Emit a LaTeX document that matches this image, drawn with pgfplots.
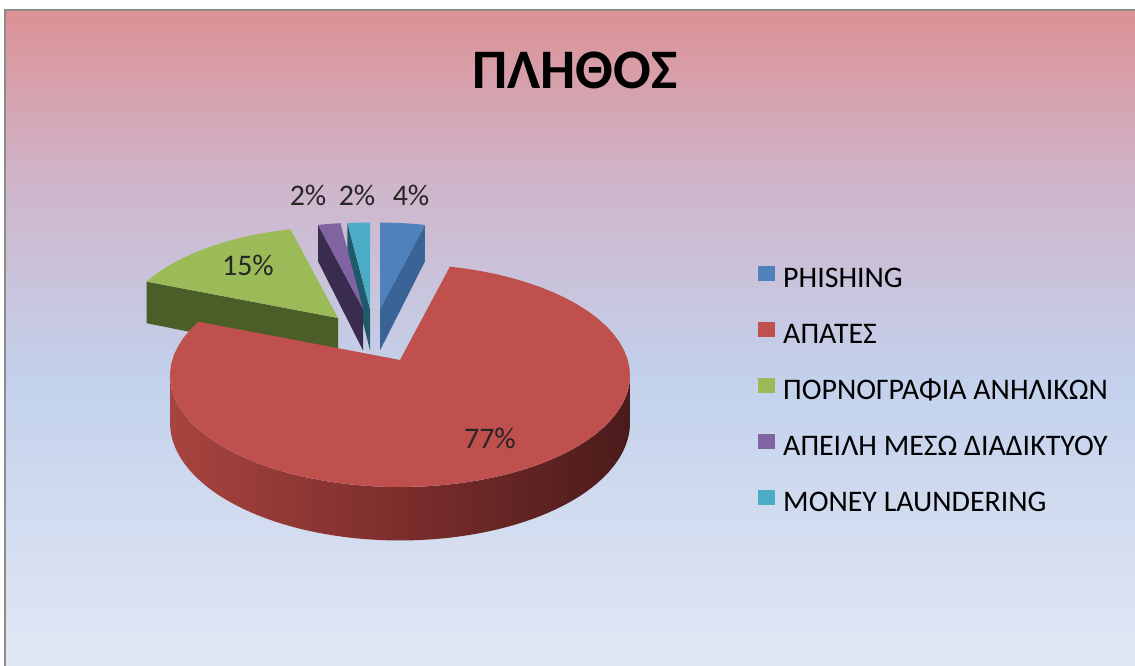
\documentclass[border=0pt]{standalone}
\usepackage{pgfplots}
\pgfplotsset{compat=1.18}
\usepackage{pgfplotstable}
\usepackage{fontspec}
\setmainfont{Carlito}

\definecolor{cBlue}{HTML}{4F81BD}
\definecolor{cBlueD}{HTML}{3A6396}
\definecolor{cRed}{HTML}{C0504D}
\definecolor{cRedL}{HTML}{A8443F}
\definecolor{cRedM}{HTML}{7C2E2C}
\definecolor{cRedR}{HTML}{4A1B1B}
\definecolor{cGreen}{HTML}{9BBB59}
\definecolor{cGreenD}{HTML}{4B5E27}
\definecolor{cPurple}{HTML}{8064A2}
\definecolor{cPurpleD}{HTML}{3A2C4E}
\definecolor{cCyan}{HTML}{4BACC6}
\definecolor{cCyanD}{HTML}{1E5A6A}
\definecolor{bgTop}{HTML}{DC9195}
\definecolor{bgA}{HTML}{CFB5CA}
\definecolor{bgB}{HTML}{C3D1EC}
\definecolor{bgBot}{HTML}{E2E7F4}
\definecolor{frame}{HTML}{8C8C88}

% shares in percent: PHISHING, APATES, PORNOGRAFIA, APEILH, MONEY LAUNDERING
\pgfplotstableread{
value
4
77
15
2
2
}\piedata

\pgfplotstablegetelem{0}{value}\of\piedata \edef\vA{\pgfplotsretval}
\pgfplotstablegetelem{1}{value}\of\piedata \edef\vB{\pgfplotsretval}
\pgfplotstablegetelem{2}{value}\of\piedata \edef\vC{\pgfplotsretval}
\pgfplotstablegetelem{3}{value}\of\piedata \edef\vD{\pgfplotsretval}
\pgfplotstablegetelem{4}{value}\of\piedata \edef\vE{\pgfplotsretval}
\pgfmathsetmacro\angA{0}
\pgfmathsetmacro\angB{\vA*3.6}
\pgfmathsetmacro\angC{\angB+\vB*3.6}
\pgfmathsetmacro\angD{\angC+\vC*3.6}
\pgfmathsetmacro\angE{\angD+\vD*3.6}
\pgfmathsetmacro\angF{\angE+\vE*3.6}

% top face: #1 start angle, #2 end angle, #3 tip x, #4 tip y, #5 scale, #6 colour
\newcommand{\topface}[6]{%
  \addplot[draw=none, fill=#6, domain=#1:#2, samples=60, forget plot]
    ({#3+#5*qx(x)},{#4+#5*qy(x)}) -- (axis cs:#3,#4) -- cycle;
}
% radial side face: #1 angle, #2 tip x, #3 tip y, #4 scale, #5 colour
\newcommand{\radface}[5]{%
  \addplot[draw=none, fill=#5, forget plot, samples at={0,1,2,3}]
    ({#2+#4*qx(#1)*isout(x)},
     {#3+#4*(qy(#1)*isout(x)+46*isbot(x)*(isout(x)*kp(#1)+1-isout(x)))}) -- cycle;
}

\begin{document}
\begin{tikzpicture}[declare function={
    kp(\a)=1/(1+0.139*cos(\a));
    qx(\a)=227.8*sin(\a)*kp(\a);
    qy(\a)=-109.4*cos(\a)*kp(\a);
    isout(\t)=(\t>0.5)*(\t<2.5);
    isbot(\t)=(\t>1.5);
    th(\t)=ifthenelse(\t<1.005,98+164*min(\t,1),262-164*(\t-1));
    lowr(\t)=(\t>1.005);
  }]
\useasboundingbox (0,0) rectangle (1135bp,666bp);
% background
\shade[top color=bgTop, bottom color=bgA] (5bp,485bp) rectangle (1135bp,656bp);
\shade[top color=bgA, bottom color=bgB] (5bp,285bp) rectangle (1135bp,486bp);
\shade[top color=bgB, bottom color=bgBot] (5bp,0bp) rectangle (1135bp,286bp);
\draw[frame, line width=2bp] (5bp,0bp) -- (5bp,656bp) -- (1135bp,656bp);

\begin{axis}[
  at={(0,0)}, anchor=south west,
  width=1135bp, height=666bp, scale only axis,
  xmin=0, xmax=1135, ymin=0, ymax=666, y dir=reverse,
  hide axis,
  legend style={at={(axis cs:758,266)}, anchor=north west, draw=none, fill=none,
    inner sep=0pt, row sep=27bp,
    font=\fontsize{30}{35}\selectfont,
    nodes={inner sep=0pt, text height=20bp, text depth=8bp},
    /tikz/every odd column/.append style={column sep=8bp}},
  legend cell align=left,
  legend image code/.code={\path[#1] (0bp,0bp) rectangle (17bp,15bp);},
]
% green (exploded)
\radface{\angC}{338}{318}{0.95}{cGreenD}
\topface{\angC}{\angD}{338}{318}{0.95}{cGreen}
% money laundering
\radface{\angE}{370}{309}{0.9}{cCyanD}
\topface{\angE}{\angF}{370}{309}{0.9}{cCyan}
% threat
\radface{\angD}{363}{309}{0.9}{cPurpleD}
\topface{\angD}{\angE}{363}{309}{0.9}{cPurple}
% phishing
\radface{\angB}{380}{309}{0.9}{cBlueD}
\topface{\angA}{\angB}{380}{309}{0.9}{cBlue}
% red (not exploded): outer side then top
\addplot[draw=none, left color=cRedL, right color=cRedR, middle color=cRedM,
  domain=0:2, samples=161, forget plot]
  ({400+qx(th(x))},{360+qy(th(x))+46*lowr(x)*kp(th(x))}) -- cycle;
\topface{\angB}{\angC}{400}{360}{1}{cRed}

\addlegendimage{fill=cBlue, draw=none}
\addlegendentry{PHISHING}
\addlegendimage{fill=cRed, draw=none}
\addlegendentry{ΑΠΑΤΕΣ}
\addlegendimage{fill=cGreen, draw=none}
\addlegendentry{ΠΟΡΝΟΓΡΑΦΙΑ ΑΝΗΛΙΚΩΝ}
\addlegendimage{fill=cPurple, draw=none}
\addlegendentry{ΑΠΕΙΛΗ ΜΕΣΩ ΔΙΑΔΙΚΤΥΟΥ}
\addlegendimage{fill=cCyan, draw=none}
\addlegendentry{MONEY LAUNDERING}

\node[font=\bfseries\fontsize{56}{62}\selectfont] at (axis cs:575,70) {ΠΛΗΘΟΣ};
\begin{scope}[every node/.style={font=\fontsize{30}{35}\selectfont, text=black!85}]
\node at (axis cs:411,195) {\vA\%};
\node at (axis cs:357,195) {\vE\%};
\node at (axis cs:308,195) {\vD\%};
\node at (axis cs:248,265) {\vC\%};
\node at (axis cs:490,438) {\vB\%};
\end{scope}
\end{axis}
\end{tikzpicture}
\end{document}
